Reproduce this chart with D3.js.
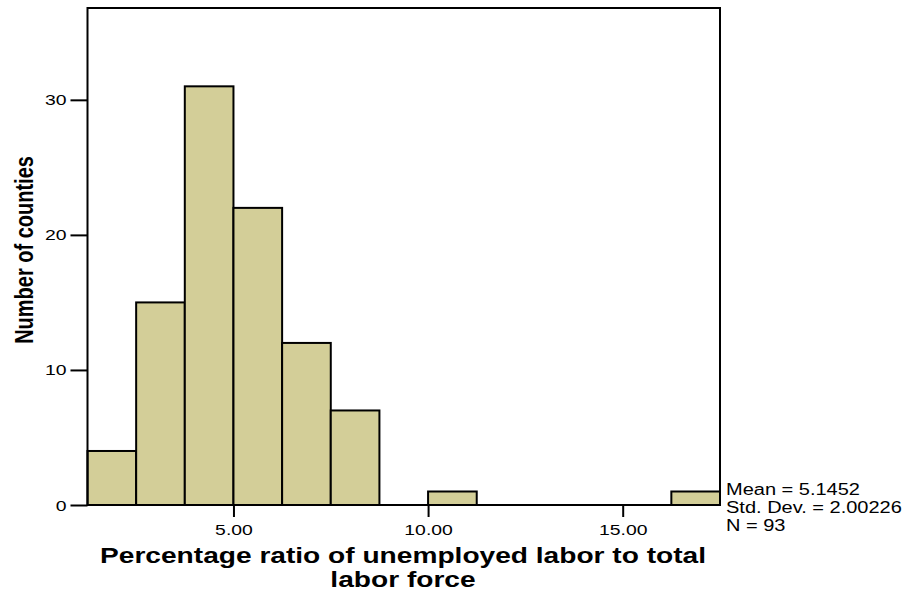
<!DOCTYPE html>
<html>
<head>
<meta charset="utf-8">
<script src="https://cdn.jsdelivr.net/npm/d3@7"></script>
<style>
  html, body { margin: 0; padding: 0; background: #fff; }
  svg { display: block; font-family: "Liberation Sans", Arial, sans-serif; }
</style>
</head>
<body>
<svg id="chart" width="912" height="595"></svg>
<script>
// Histogram bins (lower edge) and counts
const binStarts = [1.25, 2.5, 3.75, 5.0, 6.25, 7.5, 8.75, 10.0, 11.25, 12.5, 13.75, 15.0, 16.25];
const binWidth = 1.25;
const counts = [4, 15, 31, 22, 12, 7, 0, 1, 0, 0, 0, 0, 1];
const xTicks = [5, 10, 15];
const xTickLabels = ["5.00", "10.00", "15.00"];
const yTicks = [0, 10, 20, 30];
const statsLines = ["Mean = 5.1452", "Std. Dev. = 2.00226", "N = 93"];
const xTitleLines = ["Percentage ratio of unemployed labor to total", "labor force"];
const yTitle = "Number of counties";

const svg = d3.select("#chart");
const plotL = 87.5, plotR = 720, plotT = 8, plotB = 505;
const SX = 1.25; // horizontal glyph stretch

const x = d3.scaleLinear().domain([1.25, 17.5]).range([plotL, plotR]);
const y = d3.scaleLinear().domain([0, 36.8]).range([plotB, plotT]);

const bins = binStarts.map((s, i) => ({ x0: s, x1: s + binWidth, n: counts[i] }));

// bars
svg.append("g").selectAll("rect")
  .data(bins.filter(d => d.n > 0))
  .join("rect")
  .attr("x", d => x(d.x0))
  .attr("y", d => y(d.n))
  .attr("width", d => x(d.x1) - x(d.x0))
  .attr("height", d => y(0) - y(d.n))
  .attr("fill", "#d3ce98")
  .attr("stroke", "#000")
  .attr("stroke-width", 2);

// plot frame
svg.append("rect")
  .attr("x", plotL).attr("y", plotT)
  .attr("width", plotR - plotL).attr("height", plotB - plotT)
  .attr("fill", "none").attr("stroke", "#000").attr("stroke-width", 2);

// helper: horizontally stretched text
function stext(g, tx, ty, str, size, weight, anchor) {
  return g.append("text")
    .attr("transform", `translate(${tx},${ty}) scale(${SX},1)`)
    .attr("text-anchor", anchor || "start")
    .attr("font-size", size)
    .attr("font-weight", weight || "normal")
    .attr("fill", "#000")
    .text(str);
}

// x axis
const xAxis = d3.axisBottom(x).tickValues(xTicks).tickSize(12).tickFormat((d, i) => xTickLabels[i]);
const gx = svg.append("g").attr("transform", `translate(0,${plotB})`).call(xAxis);
gx.select(".domain").remove();
gx.selectAll(".tick line").attr("stroke", "#000").attr("stroke-width", 2);
gx.selectAll(".tick text").remove();
gx.selectAll(".tick").each(function(d, i) {
  stext(d3.select(this), 0, 30, xTickLabels[i], 15.5, "normal", "middle");
});

// y axis
const yAxis = d3.axisLeft(y).tickValues(yTicks).tickSize(17).tickFormat(d3.format("d"));
const gy = svg.append("g").attr("transform", `translate(${plotL},0)`).call(yAxis);
gy.select(".domain").remove();
gy.selectAll(".tick line").attr("stroke", "#000").attr("stroke-width", 2);
gy.selectAll(".tick text").remove();
gy.selectAll(".tick").each(function(d) {
  stext(d3.select(this), -21, 5, String(d), 15.5, "normal", "end");
});

// summary statistics
statsLines.forEach((s, i) => stext(svg, 726, 495 + i * 18, s, 16, "normal", "start"));

// x title
xTitleLines.forEach((s, i) => stext(svg, 403, 563 + i * 24, s, 22.5, "bold", "middle"));

// y title (rotated)
svg.append("text")
  .attr("transform", `translate(33,250) rotate(-90) scale(1,1.3)`)
  .attr("text-anchor", "middle")
  .attr("font-size", 20)
  .attr("font-weight", "bold")
  .text(yTitle);
</script>
</body>
</html>
